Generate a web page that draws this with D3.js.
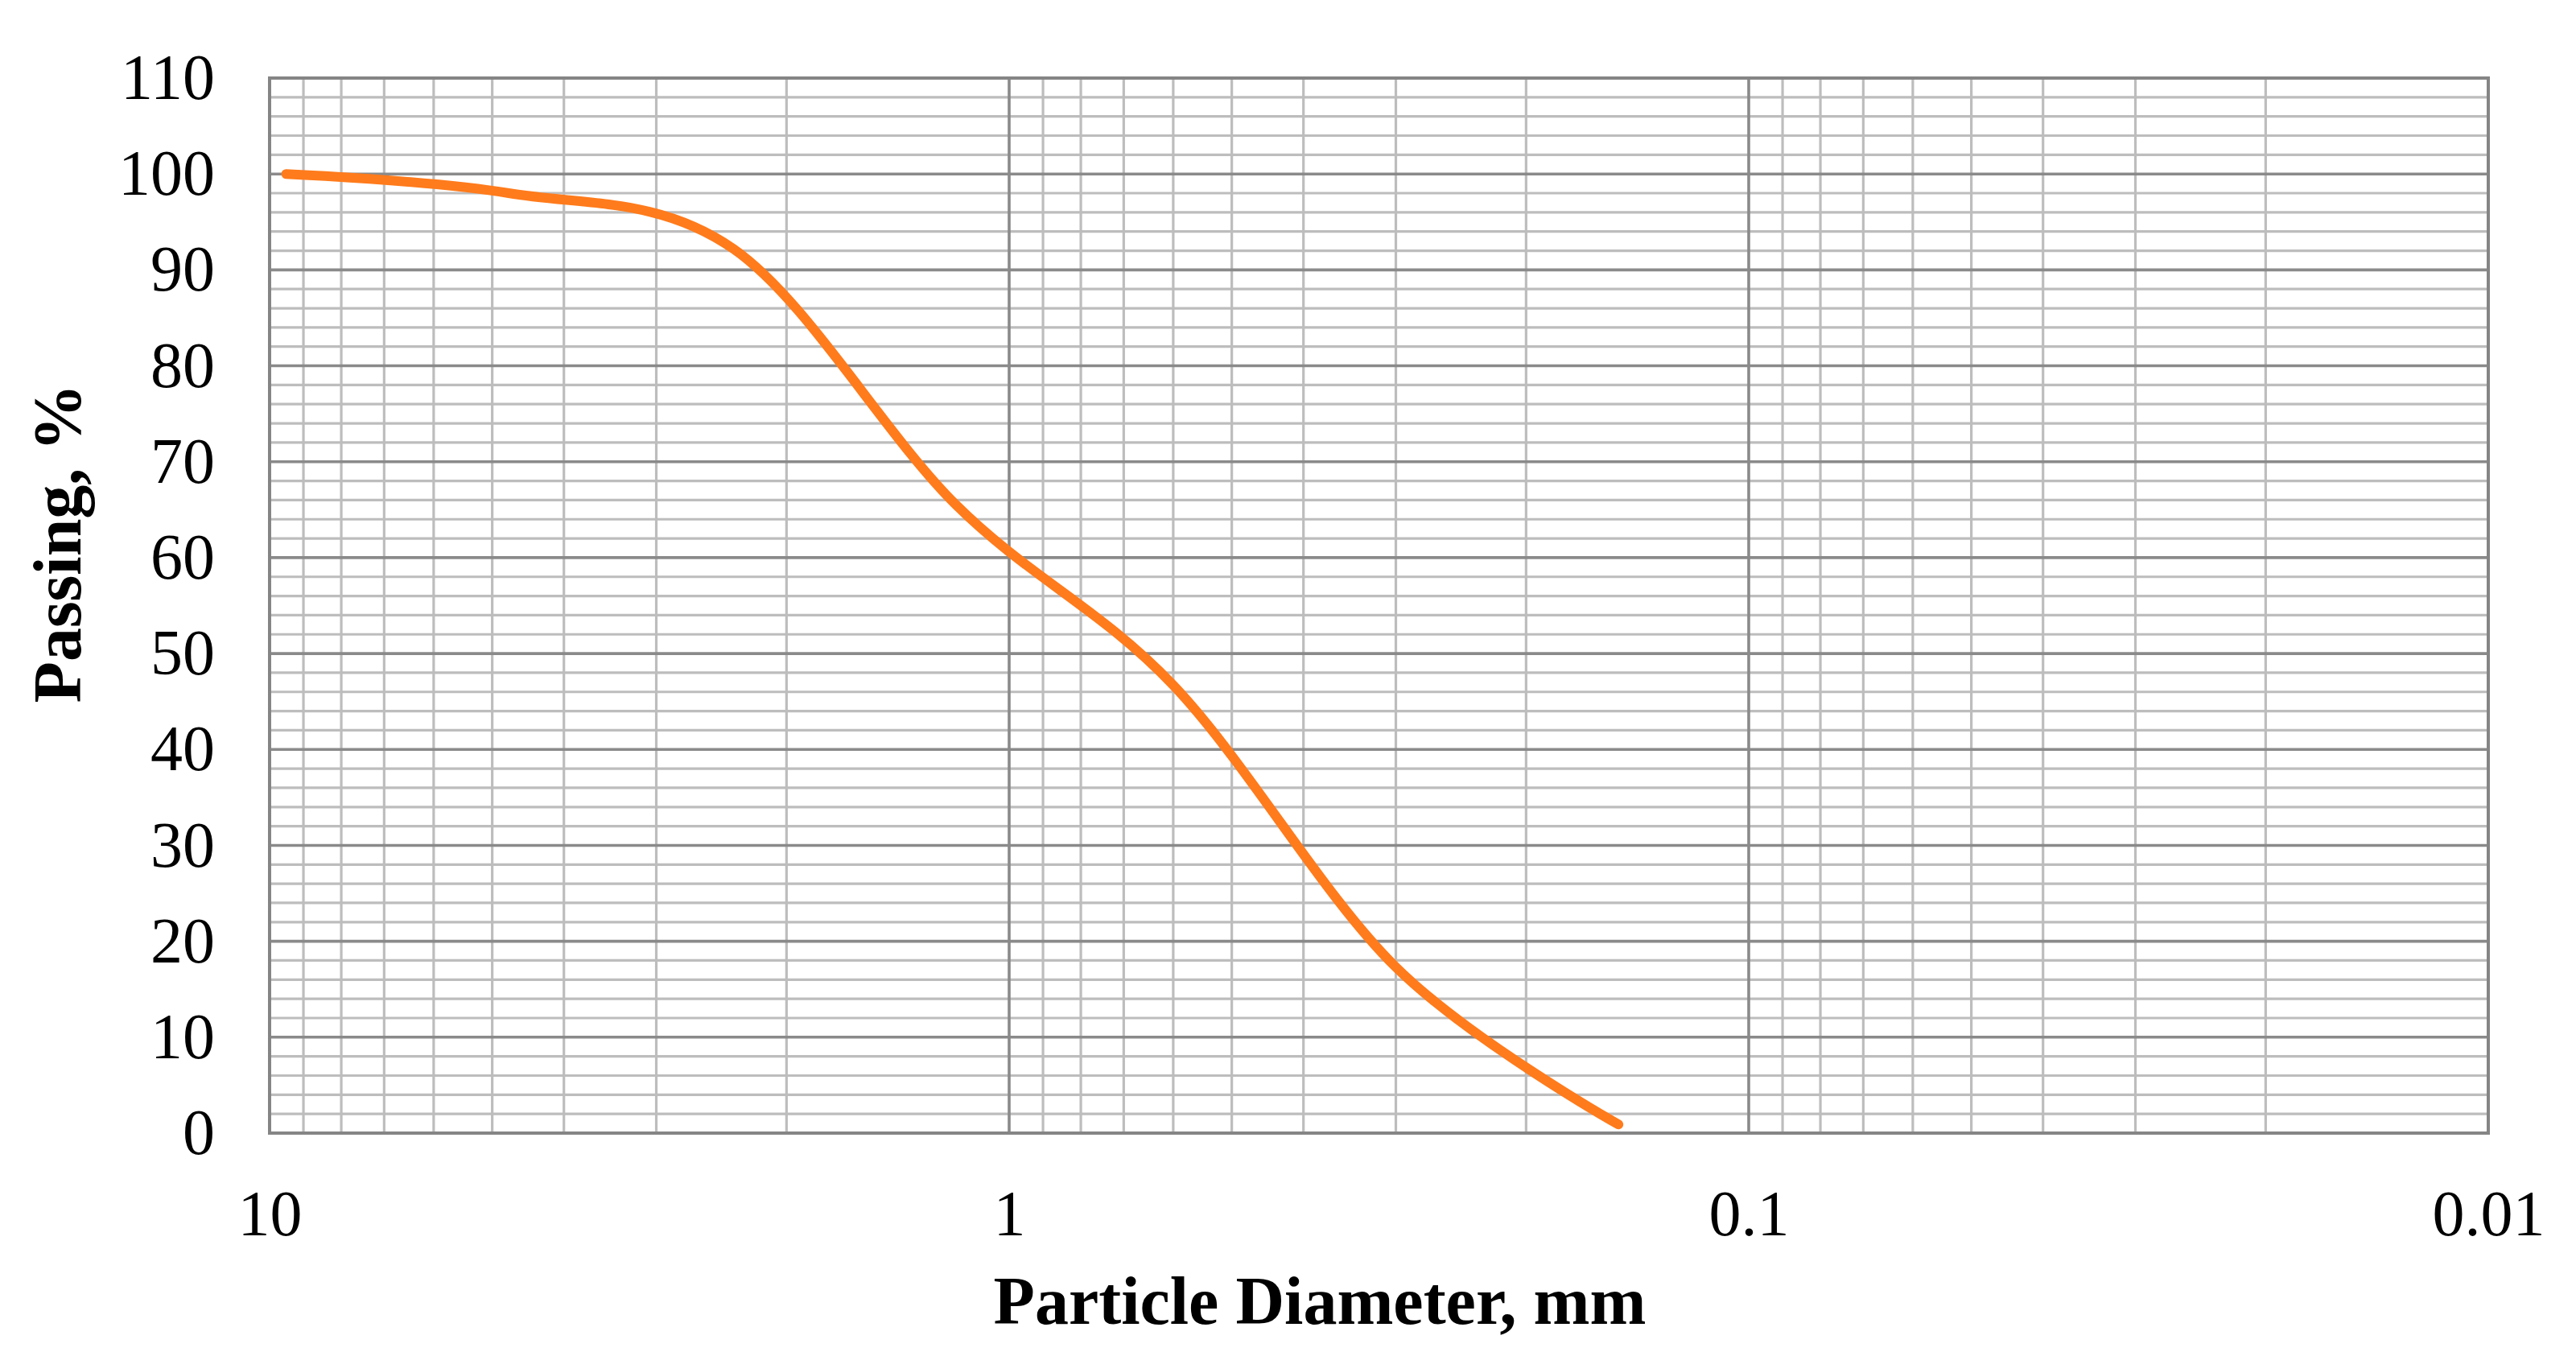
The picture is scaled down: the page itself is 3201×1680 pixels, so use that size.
<!DOCTYPE html>
<html>
<head>
<meta charset="utf-8">
<script src="https://cdn.jsdelivr.net/npm/d3@7"></script>
<style>
  html, body { margin: 0; padding: 0; background: #ffffff; }
  svg { display: block; }
</style>
</head>
<body>
<svg id="chart" width="3201" height="1680"></svg>
<script>
// Sieve sizes (mm) and percent passing
const diameters = [9.5, 4.75, 2.36, 1.18, 0.6, 0.3, 0.15];
const passing   = [100, 98.0, 92.2, 65.5, 46.7, 17.3, 0.9];

const xTickValues = [10, 1, 0.1, 0.01];
const xTickLabels = ["10", "1", "0.1", "0.01"];
const yTickValues = [0, 10, 20, 30, 40, 50, 60, 70, 80, 90, 100, 110];
const yMinorValues = d3.range(0, 111, 2);

const xTitle = "Particle Diameter, mm";
const yTitle = "Passing, %";

const W = 3201, H = 1680;
const plot = { left: 335, right: 3092, top: 97, bottom: 1408 };

const svg = d3.select("#chart");
svg.append("rect").attr("width", W).attr("height", H).attr("fill", "#ffffff");

const x = d3.scaleLog().domain([10, 0.01]).range([plot.left, plot.right]);
const y = d3.scaleLinear().domain([0, 110]).range([plot.bottom, plot.top]);

// minor vertical grid: 2..9 within each decade
const minorX = [];
[0.01, 0.1, 1].forEach(dec => {
  for (let k = 2; k <= 9; k++) minorX.push(+(dec * k).toPrecision(3));
});

const grid = svg.append("g");
// horizontal minor
grid.selectAll("line.hmin").data(yMinorValues.filter(v => v % 10 !== 0)).join("line")
  .attr("x1", plot.left).attr("x2", plot.right)
  .attr("y1", d => y(d)).attr("y2", d => y(d))
  .attr("stroke", "#bdbdbd").attr("stroke-width", 3.2);
// vertical minor
grid.selectAll("line.vmin").data(minorX).join("line")
  .attr("y1", plot.top).attr("y2", plot.bottom)
  .attr("x1", d => x(d)).attr("x2", d => x(d))
  .attr("stroke", "#bdbdbd").attr("stroke-width", 3.2);
// horizontal major
grid.selectAll("line.hmaj").data(yTickValues.filter(v => v > 0 && v < 110)).join("line")
  .attr("x1", plot.left).attr("x2", plot.right)
  .attr("y1", d => y(d)).attr("y2", d => y(d))
  .attr("stroke", "#8a8a8a").attr("stroke-width", 3.6);
// vertical major
grid.selectAll("line.vmaj").data([1, 0.1]).join("line")
  .attr("y1", plot.top).attr("y2", plot.bottom)
  .attr("x1", d => x(d)).attr("x2", d => x(d))
  .attr("stroke", "#8a8a8a").attr("stroke-width", 3.6);
// border
svg.append("rect")
  .attr("x", plot.left).attr("y", plot.top)
  .attr("width", plot.right - plot.left).attr("height", plot.bottom - plot.top)
  .attr("fill", "none").attr("stroke", "#858585").attr("stroke-width", 4);

// Axes (labels only)
const yAxis = d3.axisLeft(y).tickValues(yTickValues).tickSize(0).tickPadding(68);
const gy = svg.append("g").attr("transform", `translate(${plot.left},0)`).call(yAxis);
gy.select(".domain").remove();
gy.selectAll("text")
  .attr("font-family", "'Liberation Serif', 'Times New Roman', serif")
  .attr("font-size", 80).attr("fill", "#000");

const xAxis = d3.axisBottom(x).tickValues(xTickValues)
  .tickFormat((d, i) => xTickLabels[i]).tickSize(0).tickPadding(70);
const gx = svg.append("g").attr("transform", `translate(0,${plot.bottom})`).call(xAxis);
gx.select(".domain").remove();
gx.selectAll("text")
  .attr("font-family", "'Liberation Serif', 'Times New Roman', serif")
  .attr("font-size", 80).attr("fill", "#000");

// Curve
const pts = diameters.map((d, i) => [d, passing[i]]);
const line = d3.line()
  .x(d => x(d[0])).y(d => y(d[1]))
  .curve(d3.curveCardinal.tension(0));
svg.append("path").datum(pts)
  .attr("d", line)
  .attr("fill", "none").attr("stroke", "#ff7b1c")
  .attr("stroke-width", 12).attr("stroke-linecap", "round").attr("stroke-linejoin", "round");

// Titles
svg.append("text")
  .attr("x", 1640).attr("y", 1645)
  .attr("text-anchor", "middle")
  .attr("font-family", "'Liberation Serif', 'Times New Roman', serif")
  .attr("font-weight", "bold").attr("font-size", 84).attr("fill", "#000")
  .text(xTitle);

svg.append("text")
  .attr("transform", "translate(100,675) rotate(-90)")
  .attr("text-anchor", "middle")
  .attr("font-family", "'Liberation Serif', 'Times New Roman', serif")
  .attr("font-weight", "bold").attr("font-size", 84).attr("fill", "#000")
  .text(yTitle);
</script>
</body>
</html>
